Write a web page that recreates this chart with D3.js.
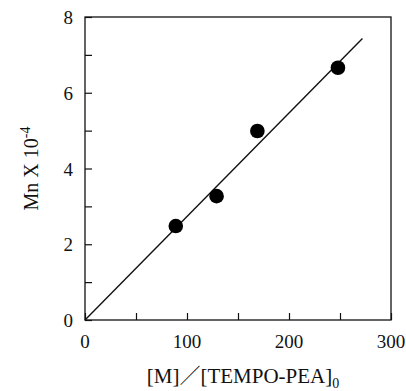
<!DOCTYPE html>
<html>
<head>
<meta charset="utf-8">
<script src="https://cdn.jsdelivr.net/npm/d3@7"></script>
<style>
  body { margin: 0; background: #fff; }
  text { font-family: "Liberation Serif", "Times New Roman", serif; fill: #111; }
</style>
</head>
<body>
<div id="chart"></div>
<script>
// data
var ratio = [89, 129, 169, 248];
var mn = [2.48, 3.27, 4.99, 6.66];
var fitX = [0, 272];
var fitY = [0, 7.43];
var xTicks = [0, 100, 200, 300];
var yTicks = [0, 2, 4, 6, 8];

function drawChart() {
    var w = 406;
    var h = 391;
    var margin = {top: 17, right: 15, bottom: 71, left: 85};

    var x = d3.scaleLinear().domain([0, 300]).range([margin.left, w - margin.right]);
    var y = d3.scaleLinear().domain([0, 8]).range([h - margin.bottom, margin.top]);

    var svg = d3.select("#chart")
                .append("svg")
                .attr("width", w)
                .attr("height", h);

    // frame
    svg.append("rect")
        .attr("x", x(0))
        .attr("y", y(8))
        .attr("width", x(300) - x(0))
        .attr("height", y(0) - y(8))
        .attr("fill", "none")
        .attr("stroke", "#111")
        .attr("stroke-width", 1.3);

    // inward ticks, major and minor
    var xAxis = d3.axisTop(x).tickValues(d3.range(0, 301, 50)).tickSize(7).tickFormat("");
    svg.append("g")
        .attr("transform", "translate(0," + y(0) + ")")
        .call(xAxis)
        .call(function(g){ g.select(".domain").remove(); });

    var yAxis = d3.axisRight(y).tickValues(d3.range(0, 8.01, 1)).tickSize(7).tickFormat("");
    svg.append("g")
        .attr("transform", "translate(" + x(0) + ",0)")
        .call(yAxis)
        .call(function(g){ g.select(".domain").remove(); });

    svg.selectAll("line").attr("stroke", "#111").attr("stroke-width", 1.2);

    // tick labels
    svg.selectAll("text.xl")
        .data(xTicks)
        .enter()
        .append("text")
        .attr("class", "xl")
        .attr("x", function(d){ return x(d); })
        .attr("y", y(0) + 28)
        .attr("text-anchor", "middle")
        .style("font-size", "19px")
        .text(function(d){ return d; });

    svg.selectAll("text.yl")
        .data(yTicks)
        .enter()
        .append("text")
        .attr("class", "yl")
        .attr("x", x(0) - 12)
        .attr("y", function(d){ return y(d) + 7; })
        .attr("text-anchor", "end")
        .style("font-size", "19px")
        .text(function(d){ return d; });

    // fit line
    var line = d3.line()
                .x(function(d){ return x(d[0]); })
                .y(function(d){ return y(d[1]); });
    svg.append("path")
        .datum(d3.zip(fitX, fitY))
        .attr("d", line)
        .attr("fill", "none")
        .attr("stroke", "#111")
        .attr("stroke-width", 1.4);

    // points
    svg.selectAll("circle")
        .data(d3.zip(ratio, mn))
        .enter()
        .append("circle")
        .attr("cx", function(d){ return x(d[0]); })
        .attr("cy", function(d){ return y(d[1]); })
        .attr("r", 7.3)
        .attr("fill", "#000");

    // axis titles
    var xt = svg.append("text")
        .attr("x", 243)
        .attr("y", 383)
        .attr("text-anchor", "middle")
        .style("font-size", "21px");
    xt.append("tspan").text("[M]");
    xt.append("tspan").style("font-family", "'Noto Sans CJK JP', sans-serif").style("font-weight", "300").text("／");
    xt.append("tspan").text("[TEMPO-PEA]");
    xt.append("tspan").attr("dy", 5).style("font-size", "14px").text("0");

    var yt = svg.append("text")
        .attr("transform", "translate(38," + ((y(0) + y(8)) / 2) + ") rotate(-90)")
        .attr("text-anchor", "middle")
        .style("font-size", "20px");
    yt.append("tspan").text("Mn X 10");
    yt.append("tspan").attr("dy", -8).style("font-size", "14px").text("-4");
}

window.onload = drawChart;
</script>
</body>
</html>
